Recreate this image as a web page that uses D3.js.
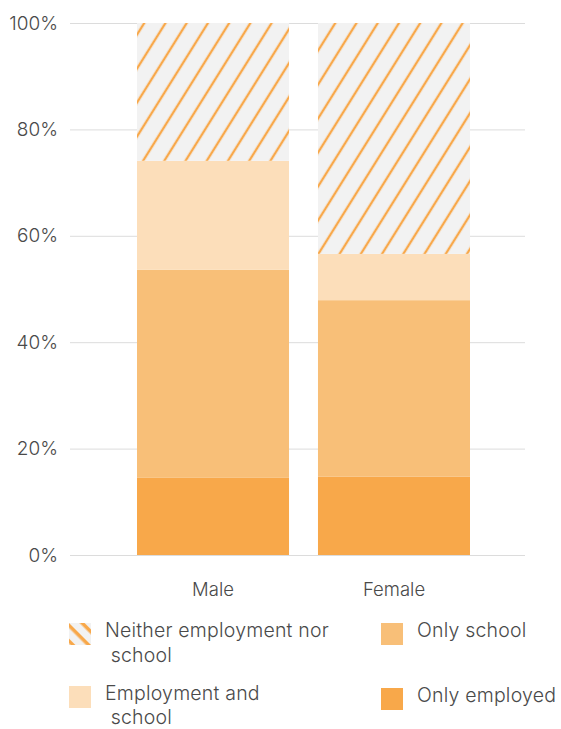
<!DOCTYPE html>
<html>
<head>
<meta charset="utf-8">
<script src="https://cdn.jsdelivr.net/npm/d3@7"></script>
<style>
body { margin: 0; background: #fff; }
text { font-family: Inter, "Open Sans", sans-serif; font-weight: 300; }
</style>
</head>
<body>
<div id="chart"></div>
<script>
var svgWidth = 561;
var svgHeight = 729;

// data
var groups = ["Male", "Female"];
var seriesKeys = ["Only employed", "Only school", "Employment and school", "Neither employment nor school"];
var onlyEmployed = [14.5, 14.7];
var onlySchool = [39.1, 33.2];
var employmentAndSchool = [20.5, 8.7];
var neither = [25.9, 43.4];
var yTicks = [0, 20, 40, 60, 80, 100];

var colors = {
    "Only employed": "#f8a84a",
    "Only school": "#f8bf78",
    "Employment and school": "#fcdeba",
    "Neither employment nor school": "url(#hatch)"
};

var margin = { top: 23, right: 36, bottom: 174, left: 70 };
var width = svgWidth - margin.left - margin.right;
var height = svgHeight - margin.top - margin.bottom;

var svg = d3.select("#chart")
    .append("svg")
    .attr("width", svgWidth)
    .attr("height", svgHeight);

var defs = svg.append("defs");

var hatch = defs.append("pattern")
    .attr("id", "hatch")
    .attr("patternUnits", "userSpaceOnUse")
    .attr("width", 18)
    .attr("height", 18)
    .attr("patternTransform", "rotate(32)");
hatch.append("rect").attr("width", 18).attr("height", 18).attr("fill", "#f2f2f2");
hatch.append("line")
    .attr("x1", 9).attr("y1", 0).attr("x2", 9).attr("y2", 18)
    .attr("stroke", "#f8a84a").attr("stroke-width", 2.4);

var hatchIcon = defs.append("pattern")
    .attr("id", "hatchIcon")
    .attr("patternUnits", "userSpaceOnUse")
    .attr("width", 11)
    .attr("height", 11)
    .attr("patternTransform", "translate(69,623) rotate(45)");
hatchIcon.append("rect").attr("width", 11).attr("height", 11).attr("fill", "#f2f2f2");
hatchIcon.append("line")
    .attr("x1", 0).attr("y1", 1.75).attr("x2", 11).attr("y2", 1.75)
    .attr("stroke", "#f8a84a").attr("stroke-width", 3.5);

var chartGroup = svg.append("g")
    .attr("transform", `translate(${margin.left}, ${margin.top})`);

var xScale = d3.scaleBand()
    .domain(groups)
    .range([67, 400])
    .paddingInner(0.16)
    .paddingOuter(0);

var yScale = d3.scaleLinear()
    .domain([0, 100])
    .range([height, 0]);

// gridlines
var leftAxis = d3.axisLeft(yScale)
    .tickValues(yTicks)
    .tickSize(-width)
    .tickFormat(d => d + "%");

var yAxisG = chartGroup.append("g").call(leftAxis);
yAxisG.select(".domain").remove();
yAxisG.selectAll(".tick line").attr("stroke", "#dcdcdc").attr("stroke-width", 1);
yAxisG.selectAll(".tick text")
    .attr("x", -12)
    .attr("fill", "#4a4a4a")
    .style("font-size", "19px");

// stacked bars
var table = groups.map(function(g, i) {
    return {
        group: g,
        "Only employed": onlyEmployed[i],
        "Only school": onlySchool[i],
        "Employment and school": employmentAndSchool[i],
        "Neither employment nor school": neither[i]
    };
});

var stacked = d3.stack().keys(seriesKeys)(table);

chartGroup.selectAll(".layer")
    .data(stacked)
    .enter()
    .append("g")
    .attr("class", "layer")
    .attr("fill", d => colors[d.key])
    .selectAll("rect")
    .data(d => d)
    .enter()
    .append("rect")
    .attr("x", d => xScale(d.data.group))
    .attr("y", d => yScale(d[1]))
    .attr("width", xScale.bandwidth())
    .attr("height", d => yScale(d[0]) - yScale(d[1]));

// x labels
var bottomAxis = d3.axisBottom(xScale).tickSize(0).tickPadding(28);
var xAxisG = chartGroup.append("g")
    .attr("transform", `translate(0, ${height})`)
    .call(bottomAxis);
xAxisG.select(".domain").remove();
xAxisG.selectAll(".tick text")
    .attr("fill", "#4a4a4a")
    .style("font-size", "18.5px");

// legend
var legendItems = [
    { key: "Neither employment nor school", lines: ["Neither employment nor", " school"], x: 69, y: 623, gap: 25, fill: "url(#hatchIcon)" },
    { key: "Employment and school", lines: ["Employment and", " school"], x: 69, y: 686, gap: 24, fill: colors["Employment and school"] },
    { key: "Only school", lines: ["Only school"], x: 381, y: 623, gap: 0, fill: colors["Only school"] },
    { key: "Only employed", lines: ["Only employed"], x: 381, y: 688, gap: 0, fill: colors["Only employed"] }
];

var legend = svg.append("g");
var item = legend.selectAll(".legend-item")
    .data(legendItems)
    .enter()
    .append("g")
    .attr("class", "legend-item");

item.append("rect")
    .attr("x", d => d.x)
    .attr("y", d => d.y)
    .attr("width", 22)
    .attr("height", 22)
    .attr("fill", d => d.fill);

item.append("text")
    .attr("x", d => d.x + 36)
    .attr("y", d => d.y + 14)
    .attr("fill", "#4a4a4a")
    .style("font-size", "19.5px")
    .style("letter-spacing", "0.2px")
    .style("white-space", "pre")
    .selectAll("tspan")
    .data(d => d.lines.map(l => ({ text: l, x: d.x + 36, gap: d.gap })))
    .enter()
    .append("tspan")
    .attr("x", d => d.x)
    .attr("dy", (d, i) => i === 0 ? 0 : d.gap)
    .text(d => d.text);
</script>
</body>
</html>
